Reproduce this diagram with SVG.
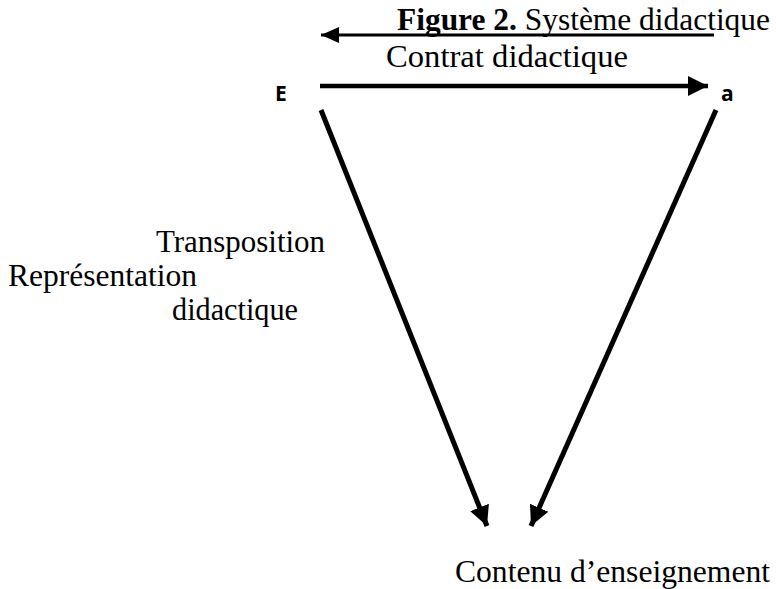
<svg xmlns="http://www.w3.org/2000/svg" width="776" height="589" viewBox="0 0 776 589">
<style>
.t{font-family:"Liberation Serif","Times New Roman",serif;font-size:32px;fill:#000}
.b{font-weight:bold}
.n{font-family:"Open Sans","Liberation Sans",Arial,sans-serif;font-weight:bold;font-size:21px;fill:#000}
.c{stroke:#000;fill:none}
</style>
<defs>
<marker id="ah" markerUnits="userSpaceOnUse" markerWidth="20" markerHeight="18" refX="18" refY="8" orient="auto" viewBox="0 0 20 16">
<path d="M0,0 L18,8 L0,16 Z" fill="#000"/>
</marker>
<marker id="ah2" markerUnits="userSpaceOnUse" markerWidth="22" markerHeight="22" refX="20" refY="10" orient="auto" viewBox="0 0 22 20">
<path d="M0,0 L20,10 L0,20 Z" fill="#000"/>
</marker>
</defs>
<rect width="776" height="589" fill="#fff"/>
<g id="title"><text class="t" x="397" y="30" textLength="373" lengthAdjust="spacingAndGlyphs"><tspan class="b">Figure 2.</tspan> Système didactique</text></g>
<g id="connectors">
<line class="c" x1="714" y1="35" x2="321" y2="35" stroke-width="3" marker-end="url(#ah)"/>
<line class="c" x1="320" y1="86" x2="708" y2="86" stroke-width="4.5" marker-end="url(#ah2)"/>
<line class="c" x1="321" y1="110" x2="487" y2="526" stroke-width="5" marker-end="url(#ah2)"/>
<line class="c" x1="716" y1="110" x2="531" y2="526" stroke-width="5" marker-end="url(#ah2)"/>
</g>
<g id="label-contrat"><text class="t" x="386" y="67" textLength="242" lengthAdjust="spacingAndGlyphs">Contrat didactique</text></g>
<g id="node-E"><text class="n" x="275" y="101">E</text></g>
<g id="node-a"><text class="n" x="721" y="101">a</text></g>
<g id="label-transposition">
<text class="t" x="156" y="252" textLength="169" lengthAdjust="spacingAndGlyphs">Transposition</text>
<text class="t" x="8" y="286" textLength="189" lengthAdjust="spacingAndGlyphs">Représentation</text>
<text class="t" x="172" y="320" textLength="126" lengthAdjust="spacingAndGlyphs">didactique</text>
</g>
<g id="node-contenu"><text class="t" x="455" y="582" textLength="315" lengthAdjust="spacingAndGlyphs">Contenu d’enseignement</text></g>
</svg>
